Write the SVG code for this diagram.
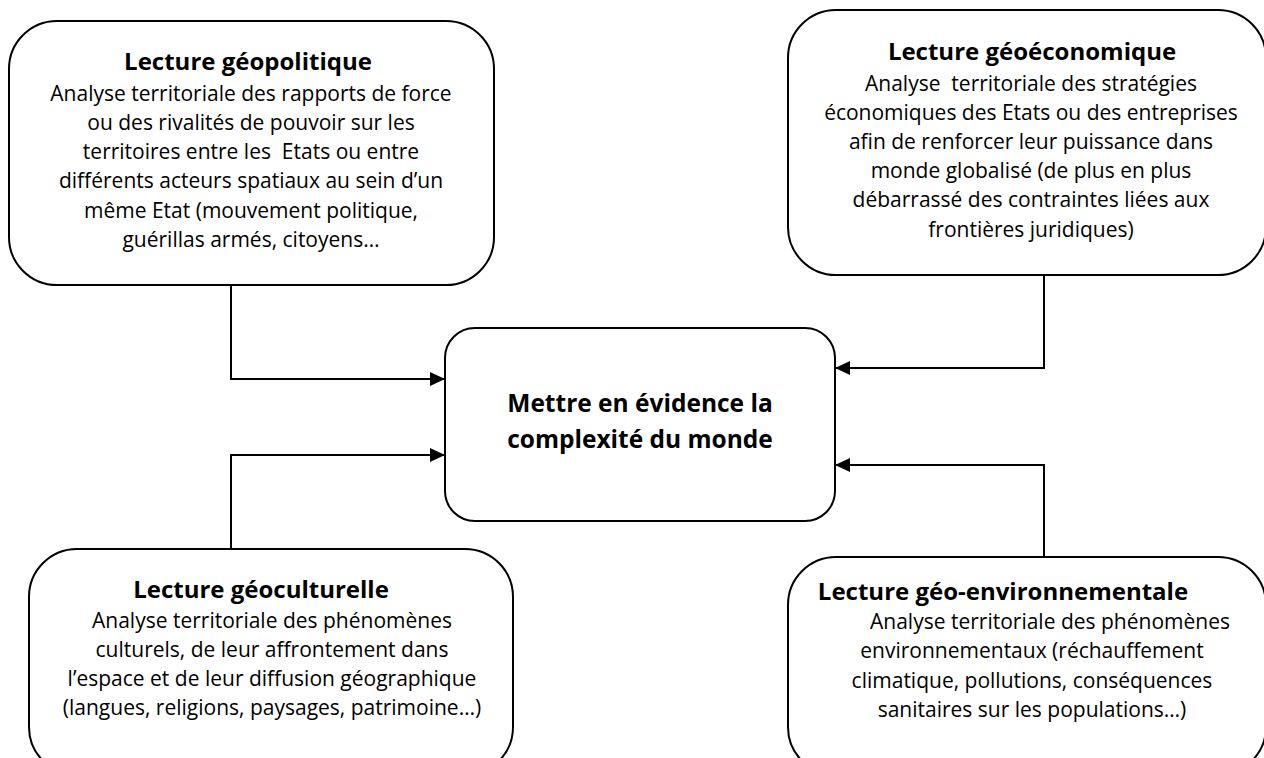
<svg xmlns="http://www.w3.org/2000/svg" width="1264" height="758" viewBox="0 0 1264 758">
<style>
.box{fill:#fff;stroke:#000;stroke-width:2}
.t{font-family:"Open Sans","Liberation Sans",sans-serif;font-weight:bold;font-size:24px;fill:#000;text-anchor:middle}
.b{font-family:"Open Sans","Liberation Sans",sans-serif;font-size:21px;fill:#000;text-anchor:middle}
.c{font-family:"Open Sans","Liberation Sans",sans-serif;font-weight:bold;font-size:24.5px;fill:#000;text-anchor:middle}
.con{fill:none;stroke:#000;stroke-width:2}
</style>
<defs>
<marker id="arr" viewBox="0 0 15 14" refX="15" refY="7" markerWidth="15" markerHeight="14" markerUnits="userSpaceOnUse" orient="auto">
<path d="M0,0 L15,7 L0,14 Z" fill="#000"/>
</marker>
</defs>
<rect width="1264" height="758" fill="#fff"/>
<g id="connectors">
<path class="con" d="M231,285 V379 H445" marker-end="url(#arr)"/>
<path class="con" d="M231,549 V455 H445" marker-end="url(#arr)"/>
<path class="con" d="M1044,274 V368 H835" marker-end="url(#arr)"/>
<path class="con" d="M1044,557 V465 H835" marker-end="url(#arr)"/>
</g>
<g id="geopolitique">
<rect class="box" x="9" y="21" width="485" height="264" rx="48" ry="48"/>
<text class="t" x="248" y="70">Lecture géopolitique</text>
<text class="b" x="251" y="101" xml:space="preserve">Analyse territoriale des rapports de force</text>
<text class="b" x="251" y="130" xml:space="preserve">ou des rivalités de pouvoir sur les</text>
<text class="b" x="251" y="159" xml:space="preserve">territoires entre les  Etats ou entre</text>
<text class="b" x="251" y="188" xml:space="preserve">différents acteurs spatiaux au sein d’un</text>
<text class="b" x="251" y="218" xml:space="preserve">même Etat (mouvement politique,</text>
<text class="b" x="251" y="247" xml:space="preserve">guérillas armés, citoyens…</text>
</g>
<g id="geoeconomique">
<rect class="box" x="788" y="10" width="478" height="265" rx="48" ry="48"/>
<text class="t" x="1032" y="60">Lecture géoéconomique</text>
<text class="b" x="1031" y="91" xml:space="preserve">Analyse  territoriale des stratégies</text>
<text class="b" x="1031" y="120" xml:space="preserve">économiques des Etats ou des entreprises</text>
<text class="b" x="1031" y="149" xml:space="preserve">afin de renforcer leur puissance dans</text>
<text class="b" x="1031" y="178" xml:space="preserve">monde globalisé (de plus en plus</text>
<text class="b" x="1031" y="207" xml:space="preserve">débarrassé des contraintes liées aux</text>
<text class="b" x="1031" y="237" xml:space="preserve">frontières juridiques)</text>
</g>
<g id="centre">
<rect class="box" x="445" y="328" width="390" height="193" rx="30" ry="30"/>
<text class="c" x="640" y="412">Mettre en évidence la</text>
<text class="c" x="640" y="448">complexité du monde</text>
</g>
<g id="geoculturelle">
<rect class="box" x="29" y="549" width="484" height="226" rx="48" ry="48"/>
<text class="t" x="261" y="598">Lecture géoculturelle</text>
<text class="b" x="272" y="628">Analyse territoriale des phénomènes</text>
<text class="b" x="272" y="657">culturels, de leur affrontement dans</text>
<text class="b" x="272" y="686">l’espace et de leur diffusion géographique</text>
<text class="b" x="272" y="715">(langues, religions, paysages, patrimoine…)</text>
</g>
<g id="geoenvironnementale">
<rect class="box" x="788" y="557" width="478" height="218" rx="48" ry="48"/>
<text class="t" x="1003" y="600">Lecture géo-environnementale</text>
<text class="b" x="1050" y="629">Analyse territoriale des phénomènes</text>
<text class="b" x="1032" y="658">environnementaux (réchauffement</text>
<text class="b" x="1032" y="688">climatique, pollutions, conséquences</text>
<text class="b" x="1032" y="717">sanitaires sur les populations…)</text>
</g>
</svg>
